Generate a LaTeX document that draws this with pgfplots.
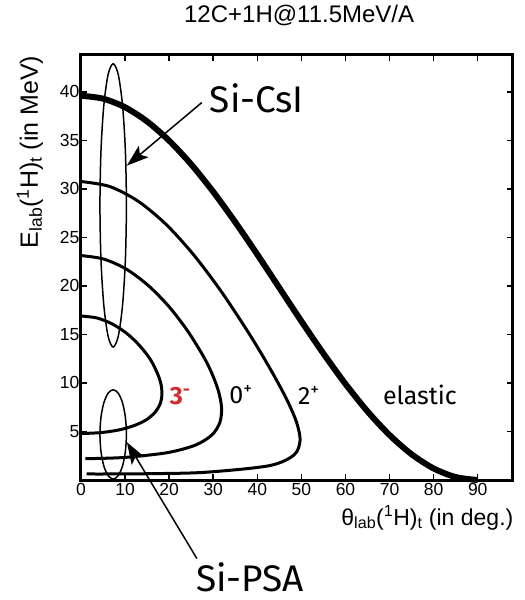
\documentclass[border=0pt]{standalone}
\usepackage{fontspec}
\setmainfont{Liberation Sans}
\newfontfamily\annfont{Fira Sans}
\usepackage{pgfplots}
\pgfplotsset{compat=1.18}
\usetikzlibrary{arrows.meta}
\definecolor{redlab}{HTML}{D42A2A}
\begin{document}
\begin{tikzpicture}
\path[use as bounding box] (-81pt,-120pt) rectangle (444pt,480pt);
\begin{axis}[
 at={(0pt,0pt)}, anchor=south west, scale only axis,
 width=432pt, height=425pt,
 xmin=0, xmax=98, ymin=0, ymax=43.8,
 xtick={0,10,...,90}, ytick={5,10,...,40},
 tick align=inside, major tick length=6pt,
 every tick/.style={black, line width=1.5pt},
 axis line style={line width=3pt},
 ticklabel style={font=\fontsize{17.5}{17.5}\selectfont},
 yticklabel style={inner xsep=1.5pt},
 xticklabel style={inner ysep=3pt},
 /pgf/number format/assume math mode=true,
 clip=false,
 xlabel={θ\textsubscript{lab}(\textsuperscript{1}H)\textsubscript{t} (in deg.)},
 xlabel style={at={(axis description cs:1.009,-0.106)}, anchor=base east, font=\fontsize{23}{23}\selectfont},
 ylabel={E\textsubscript{lab}(\textsuperscript{1}H)\textsubscript{t} (in MeV)},
 ylabel style={at={(axis description cs:-0.1,0.772)}, anchor=base, font=\fontsize{25}{25}\selectfont},
]
% elastic
\addplot[black, line width=6pt, smooth] coordinates {
(0,39.60) (5,39.30) (10,38.41) (15,36.95) (20,34.97) (25,32.53) (30,29.70) (35,26.57) (40,23.24) (45,19.80) (50,16.36) (55,13.03) (60,9.90) (65,7.07) (70,4.63) (75,2.65) (80,1.19) (85,0.30) (90,0.0)};
% 2+
\addplot[black, line width=3pt, smooth] coordinates {
(0,30.76) (6.49,30.25) (12.93,28.74) (19.31,26.34) (25.55,23.21) (31.60,19.57) (37.33,15.66) (40.89,13.04) (44.12,10.49) (46.88,8.11) (48.90,5.95) (49.70,4.09) (48.32,2.58) (42.64,1.47) (28.02,0.79) (15.47,0.65) (6.39,0.62) (1.3,0.62)};
% 0+
\addplot[black, line width=3pt, smooth] coordinates {
(0,23.13) (5.17,22.77) (10.28,21.73) (15.22,20.06) (19.90,17.90) (24.18,15.37) (27.86,12.67) (29.82,10.85) (31.23,9.09) (31.89,7.43) (31.51,5.94) (29.72,4.65) (25.98,3.60) (19.75,2.83) (10.83,2.36) (5.56,2.24) (1.0,2.20)};
% 3-
\addplot[black, line width=3pt, smooth] coordinates {
(0,16.90) (3.6,16.70) (7.1,16.08) (10.4,15.10) (13.3,13.85) (15.8,12.38) (17.5,10.81) (18.2,9.75) (18.35,8.72) (17.9,7.78) (16.7,6.93) (14.8,6.20) (12.0,5.60) (8.5,5.15) (4.4,4.88) (0,4.79)};
% Si-CsI ellipse
\addplot[black, line width=1.5pt, smooth cycle] coordinates {
(10.3,28.3) (10.07,33.89) (9.42,38.62) (8.45,41.79) (7.3,42.9) (6.15,41.79) (5.18,38.62) (4.53,33.89) (4.3,28.3) (4.53,22.71) (5.18,17.98) (6.15,14.81) (7.3,13.7) (8.45,14.81) (9.42,17.98) (10.07,22.71)};
% Si-PSA ellipse
\addplot[black, line width=1.5pt, smooth cycle] coordinates {
(10.3,4.7) (10.07,6.46) (9.42,7.95) (8.45,8.95) (7.3,9.3) (6.15,8.95) (5.18,7.95) (4.53,6.46) (4.3,4.7) (4.53,2.94) (5.18,1.45) (6.15,0.45) (7.3,0.1) (8.45,0.45) (9.42,1.45) (10.07,2.94)};
% arrows
\addplot[black, line width=1.5pt, -{Stealth[length=22pt,width=15pt,inset=5pt]}] coordinates {(27.4,38.9) (10.4,32.4)};
\addplot[black, line width=1.5pt, -{Stealth[length=22pt,width=15pt,inset=5pt]}] coordinates {(26.3,-8.1) (10.4,3.9)};
% labels
\node[anchor=base, font=\annfont\fontsize{37}{37}\selectfont] at (axis cs:39.9,37.9) {Si-CsI};
\node[anchor=base, font=\annfont\fontsize{37}{37}\selectfont] at (axis cs:38.3,-11.5) {Si-PSA};
\node[anchor=base, font=\annfont\fontsize{25}{25}\selectfont\bfseries, text=redlab] at (axis cs:22.5,7.78) {3\textsuperscript{-}};
\node[anchor=base, font=\annfont\fontsize{25}{25}\selectfont] at (axis cs:36.3,7.9) {0\textsuperscript{+}};
\node[anchor=base, font=\annfont\fontsize{25}{25}\selectfont] at (axis cs:51.7,7.78) {2\textsuperscript{+}};
\node[anchor=base, font=\annfont\fontsize{25}{25}\selectfont] at (axis cs:76.9,7.78) {elastic};
\node[anchor=base, font=\fontsize{24}{24}\selectfont] at (axis description cs:0.505,1.0753) {12C+1H@11.5MeV/A};
\end{axis}
\end{tikzpicture}
\end{document}
